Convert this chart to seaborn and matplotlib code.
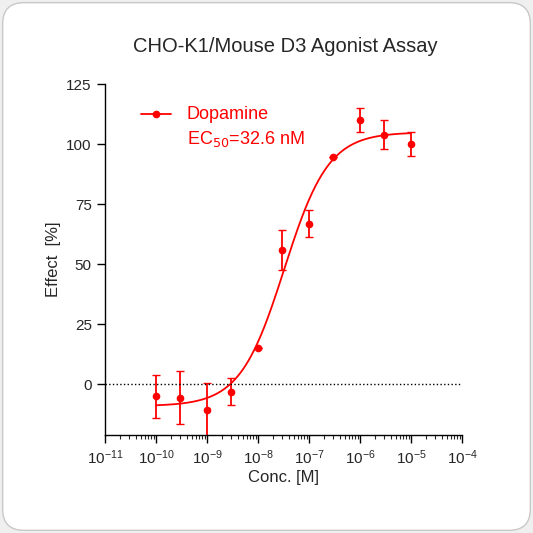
import numpy as np
import matplotlib
matplotlib.use("Agg")
import matplotlib.pyplot as plt
import seaborn as sns
from matplotlib.patches import FancyBboxPatch
from matplotlib.ticker import LogLocator, NullFormatter

# data
conc = [1e-10, 3e-10, 1e-9, 3e-9, 1e-8, 3e-8, 1e-7, 3e-7, 1e-6, 3e-6, 1e-5]
effect = [-5, -5.5, -10.5, -3, 15, 56, 67, 94.5, 110, 104, 100]
err = [9, 11, 11, 5.5, 0, 8.5, 5.5, 0, 5, 6, 5]

# fitted 4PL parameters
bottom, top, ec50, hill = -9.0, 105.0, 32.6e-9, 1.0

sns.set_theme(style="ticks")
plt.rcParams['font.family'] = ['Liberation Sans', 'DejaVu Sans']

fig = plt.figure(figsize=(5.33, 5.33), dpi=100)
fig.patch.set_facecolor("#efefef")
bg = FancyBboxPatch((0.005, 0.005), 0.99, 0.99, boxstyle="round,pad=0,rounding_size=0.04",
                    transform=fig.transFigure, facecolor="white", edgecolor="#c8c8c8", lw=1, zorder=-10)
fig.patches.append(bg)
ax = fig.add_axes([0.197, 0.184, 0.67, 0.658])
ax.set_facecolor("none")

xs = np.logspace(-10, -5, 300)
ys = bottom + (top - bottom) / (1 + (ec50 / xs) ** hill)
sns.lineplot(x=xs, y=ys, ax=ax, color="red", lw=1.3)
ax.errorbar(conc, effect, yerr=err, fmt="o", color="red", ms=4.5, capsize=3, elinewidth=1.3)
ax.axhline(0, color="black", ls=":", lw=1)

ax.set_xscale("log")
ax.set_xlim(1e-11, 1e-4)
ax.set_ylim(-21, 125)
ax.set_yticks([0, 25, 50, 75, 100, 125])
ax.xaxis.set_major_locator(LogLocator(base=10, numticks=20))
ax.xaxis.set_minor_locator(LogLocator(base=10, subs=np.arange(2, 10), numticks=20))
ax.xaxis.set_minor_formatter(NullFormatter())
ax.tick_params(axis="both", which="major", length=6, width=1, labelsize=11, color="black")
ax.tick_params(axis="x", which="minor", length=3, width=0.8)
for s in ["top", "right"]:
    ax.spines[s].set_visible(False)
for s in ["left", "bottom"]:
    ax.spines[s].set_color("black")
    ax.spines[s].set_linewidth(1)

ax.set_xlabel("Conc. [M]", fontsize=12, labelpad=2)
ax.set_ylabel("Effect  [%]", fontsize=12)
fig.text(0.535, 0.912, "CHO-K1/Mouse D3 Agonist Assay", ha="center", va="center", fontsize=14.5)

ax.plot([5e-11, 2e-10], [112.5, 112.5], color="red", lw=1.3)
ax.plot([1e-10], [112.5], "o", color="red", ms=4.5)
ax.text(4e-10, 112.5, "Dopamine", color="red", fontsize=13, va="center")
ax.text(4e-10, 102, "EC$_{50}$=32.6 nM", color="red", fontsize=13, va="center")

fig.savefig("out.png", dpi=100, facecolor=fig.get_facecolor())
